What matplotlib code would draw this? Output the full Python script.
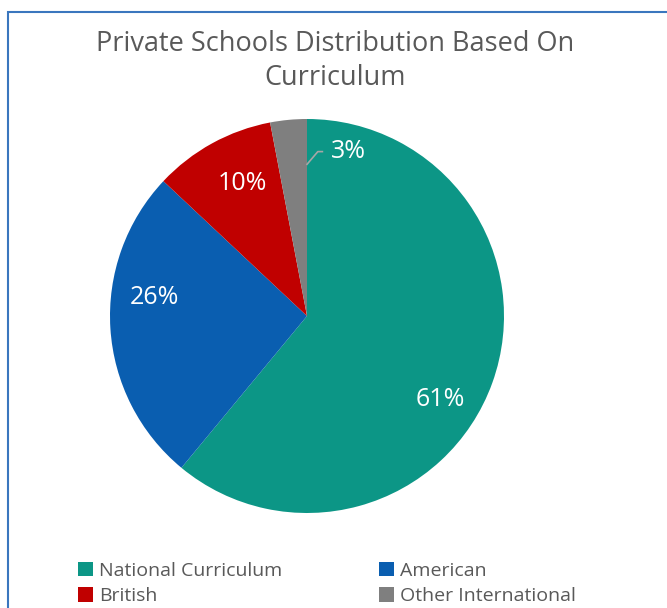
import numpy as np
from matplotlib import pyplot as plt
from matplotlib.patches import Rectangle

# Data
categories = ["National Curriculum", "American", "British", "Other International"]
shares     = [61, 26, 10, 3]
colors     = ["#0C9686", "#0A5EB0", "#C00000", "#7F7F7F"]
title      = "Private Schools Distribution Based On\nCurriculum"

# label placement (angle in deg, radius as fraction of pie radius)
label_pos  = [(-32, 0.80), (173, 0.78), (116, 0.75), (76, 0.86)]

plt.rcParams["font.family"] = ["Open Sans", "DejaVu Sans"]

W, H = 667, 608
fig = plt.figure(figsize=(W/100, H/100), dpi=100)

# chart border (runs off the right and bottom of the crop)
fig.patches.append(Rectangle((8/W, -0.1), 1.2, 1 - 12/H + 0.1, transform=fig.transFigure,
                             fill=False, edgecolor="#3A76BE", lw=1.5))

cx, cy, r = 307, 316, 197
ax = fig.add_axes([(cx - r)/W, (H - cy - r)/H, 2*r/W, 2*r/H])
wedges, _ = ax.pie(shares, colors=colors, startangle=90, counterclock=False,
                   radius=1, wedgeprops=dict(linewidth=0))
ax.set_xlim(-1, 1)
ax.set_ylim(-1, 1)
ax.set_aspect("equal")
ax.axis("off")

for v, (ang, rr) in zip(shares, label_pos):
    a = np.deg2rad(ang)
    ax.text(rr*np.cos(a), rr*np.sin(a), "%d%%" % v, color="white", fontsize=18,
            ha="center", va="center")

# leader line for the small slice
ang, rr = label_pos[3]
tx, ty = rr*np.cos(np.deg2rad(ang)), rr*np.sin(np.deg2rad(ang))
ax.plot([0.0, 0.055, tx - 0.13], [0.77, ty, ty], color="#A6A6A6", lw=1.2)

fig.text(335/W, 1 - 61/H, title, ha="center", va="center", fontsize=19.5,
         color="#595959", linespacing=1.3)

# legend filled row by row
order = [0, 2, 1, 3]
fig.legend([wedges[i] for i in order], [categories[i] for i in order],
           loc="upper left", bbox_to_anchor=(70/W, 1 - 554/H),
           ncol=2, frameon=False, fontsize=14, labelcolor="#595959",
           handlelength=0.78, handleheight=0.78, handletextpad=0.3,
           columnspacing=5.0, labelspacing=0.38, borderaxespad=0)

fig.savefig("out.png", dpi=100)
